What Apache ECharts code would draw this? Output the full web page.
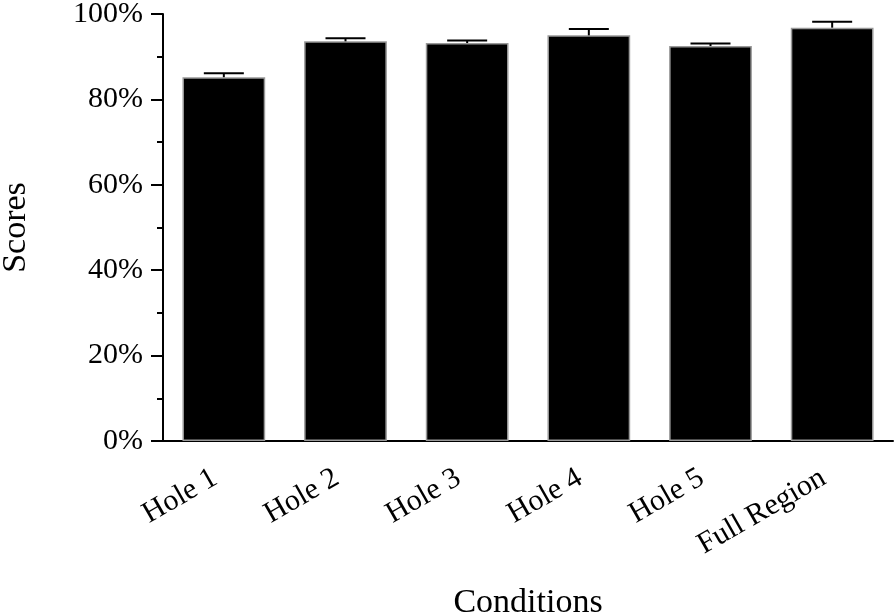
<!DOCTYPE html>
<html>
<head>
<meta charset="utf-8">
<script src="https://cdn.jsdelivr.net/npm/echarts@6/dist/echarts.min.js"></script>
<style>html,body{margin:0;padding:0;background:#fff;}#c{width:896px;height:613px;}</style>
</head>
<body>
<div id="c"></div>
<script>
var categories = ['Hole 1', 'Hole 2', 'Hole 3', 'Hole 4', 'Hole 5', 'Full Region'];
var scores = [85.2, 93.6, 93.2, 95.0, 92.5, 96.8];
var errors = [0.9, 0.7, 0.6, 1.5, 0.6, 1.4];
var yTicks = [0, 20, 40, 60, 80, 100];

var chart = echarts.init(document.getElementById('c'));
var font = '"Liberation Serif", "Times New Roman", serif';
var errData = categories.map(function (c, i) { return [i, scores[i], scores[i] + errors[i]]; });

chart.setOption({
  animation: false,
  grid: { left: 163, right: 3, top: 14, bottom: 172, containLabel: false, outerBoundsMode: 'none' },
  xAxis: {
    type: 'category',
    data: categories,
    name: 'Conditions',
    nameLocation: 'middle',
    nameGap: 145,
    nameTextStyle: { fontFamily: font, fontSize: 34, color: '#000' },
    axisLine: { lineStyle: { color: '#000', width: 2 } },
    axisTick: { show: false },
    axisLabel: { rotate: 30, margin: 30, padding: [0, 10, 0, 0], fontFamily: font, fontSize: 30, color: '#000', interval: 0 }
  },
  yAxis: {
    type: 'value',
    min: 0, max: 100, interval: 20,
    name: 'Scores',
    nameLocation: 'middle',
    nameGap: 130,
    nameTextStyle: { fontFamily: font, fontSize: 34, color: '#000' },
    axisLine: { show: true, lineStyle: { color: '#000', width: 2 } },
    axisTick: { show: true, length: 12, lineStyle: { color: '#000', width: 2 } },
    minorTick: { show: true, splitNumber: 2, length: 6, lineStyle: { color: '#000', width: 2 } },
    splitLine: { show: false },
    axisLabel: { margin: 20, fontFamily: font, fontSize: 30, color: '#000',
      formatter: function (v) { return yTicks.indexOf(v) >= 0 ? v + '%' : ''; } }
  },
  series: [{
    type: 'bar',
    data: scores,
    barWidth: '68%',
    itemStyle: { color: '#000', borderColor: '#999', borderWidth: 1.5 }
  }, {
    type: 'custom',
    data: errData,
    z: 10,
    renderItem: function (params, api) {
      var base = api.coord([api.value(0), api.value(1)]);
      var top = api.coord([api.value(0), api.value(2)]);
      var hw = 20;
      var style = { stroke: '#000', lineWidth: 2 };
      return { type: 'group', children: [
        { type: 'line', shape: { x1: base[0], y1: base[1], x2: top[0], y2: top[1] }, style: style },
        { type: 'line', shape: { x1: top[0] - hw, y1: top[1], x2: top[0] + hw, y2: top[1] }, style: style }
      ] };
    }
  }]
});
</script>
</body>
</html>
